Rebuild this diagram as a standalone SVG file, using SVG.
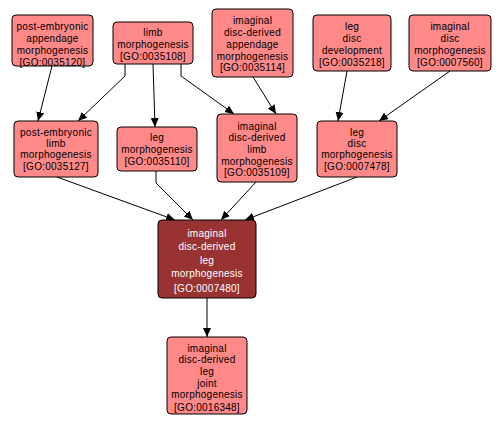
<svg xmlns="http://www.w3.org/2000/svg" width="503" height="426" viewBox="0 0 503 426">
<defs>
<marker id="arr" markerWidth="10" markerHeight="10" refX="9" refY="4" orient="auto" markerUnits="userSpaceOnUse">
<path d="M0,0 L9,4 L0,8 Z" fill="#000"/>
</marker>
<style>
.n rect{fill:#ff8888;stroke:#000;stroke-width:1}
.m rect{fill:#993333;stroke:#000;stroke-width:1}
text{font-family:"Liberation Sans",Arial,sans-serif;font-size:10px;letter-spacing:0.25px;text-anchor:middle;fill:#000}
.m text{fill:#fff}
#edges path{fill:none;stroke:#000;stroke-width:1;marker-end:url(#arr)}
</style>
</defs>
<rect width="503" height="426" fill="#fff"/>
<g id="edges">
<path d="M52,66 L38,121"/>
<path d="M125,64 L125,76 L78,121"/>
<path d="M153,64 L155,127"/>
<path d="M181,64 L181,76 L234,114"/>
<path d="M253,77 L276,114"/>
<path d="M347,71 L338,121"/>
<path d="M450,71 L379,121"/>
<path d="M57,177 L175,220"/>
<path d="M156,171 L156,183 L193,220"/>
<path d="M256,182 L221,220"/>
<path d="M357,177 L245,220"/>
<path d="M207,298 L207,337"/>
</g>
<g id="GO0035120" class="n"><rect x="12" y="15" width="81" height="51" rx="4"/>
<text x="52.5" y="29.5">post-embryonic</text><text x="52.5" y="41.5">appendage</text><text x="52.5" y="53.5">morphogenesis</text><text x="52.5" y="65.5">[GO:0035120]</text></g>
<g id="GO0035108" class="n"><rect x="113" y="22" width="80" height="42" rx="4"/>
<text x="153" y="35.5">limb</text><text x="153" y="47.5">morphogenesis</text><text x="153" y="59.5">[GO:0035108]</text></g>
<g id="GO0035114" class="n"><rect x="212" y="9" width="81" height="68" rx="4"/>
<text x="252.5" y="23.5">imaginal</text><text x="252.5" y="35.5">disc-derived</text><text x="252.5" y="47.5">appendage</text><text x="252.5" y="59.5">morphogenesis</text><text x="252.5" y="70.5">[GO:0035114]</text></g>
<g id="GO0035218" class="n"><rect x="313" y="15" width="78" height="56" rx="4"/>
<text x="352" y="29.5">leg</text><text x="352" y="41.5">disc</text><text x="352" y="53.5">development</text><text x="352" y="65.5">[GO:0035218]</text></g>
<g id="GO0007560" class="n"><rect x="409" y="15" width="82" height="56" rx="4"/>
<text x="450" y="29.5">imaginal</text><text x="450" y="41.5">disc</text><text x="450" y="53.5">morphogenesis</text><text x="450" y="65.5">[GO:0007560]</text></g>
<g id="GO0035127" class="n"><rect x="14" y="121" width="84" height="56" rx="4"/>
<text x="56" y="135.5">post-embryonic</text><text x="56" y="146.5">limb</text><text x="56" y="157.5">morphogenesis</text><text x="56" y="169.5">[GO:0035127]</text></g>
<g id="GO0035110" class="n"><rect x="117" y="127" width="80" height="44" rx="4"/>
<text x="157" y="140.5">leg</text><text x="157" y="152.5">morphogenesis</text><text x="157" y="164.5">[GO:0035110]</text></g>
<g id="GO0035109" class="n"><rect x="217" y="114" width="80" height="68" rx="4"/>
<text x="257" y="129.5">imaginal</text><text x="257" y="140.5">disc-derived</text><text x="257" y="152.5">limb</text><text x="257" y="164.5">morphogenesis</text><text x="257" y="175.5">[GO:0035109]</text></g>
<g id="GO0007478" class="n"><rect x="317" y="121" width="80" height="56" rx="4"/>
<text x="357" y="135.5">leg</text><text x="357" y="146.5">disc</text><text x="357" y="157.5">morphogenesis</text><text x="357" y="169.5">[GO:0007478]</text></g>
<g id="GO0007480" class="m"><rect x="158" y="220" width="98" height="78" rx="4"/>
<text x="207" y="236.5">imaginal</text><text x="207" y="249.5">disc-derived</text><text x="207" y="263.5">leg</text><text x="207" y="276.5">morphogenesis</text><text x="207" y="291.5">[GO:0007480]</text></g>
<g id="GO0016348" class="n"><rect x="167" y="337" width="80" height="77" rx="4"/>
<text x="207" y="351.5">imaginal</text><text x="207" y="362.5">disc-derived</text><text x="207" y="374.5">leg</text><text x="207" y="386.5">joint</text><text x="207" y="397.5">morphogenesis</text><text x="207" y="410.5">[GO:0016348]</text></g>
</svg>
